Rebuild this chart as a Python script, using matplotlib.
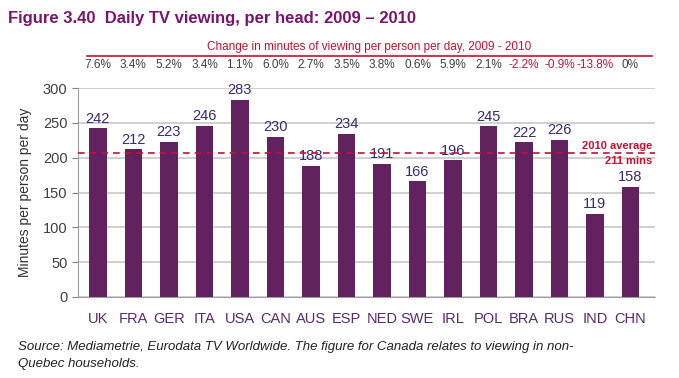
import matplotlib

matplotlib.use("Agg")
import matplotlib.pyplot as plt

plt.rcParams["font.family"] = ["Liberation Sans", "DejaVu Sans"]

countries = ["UK", "FRA", "GER", "ITA", "USA", "CAN", "AUS", "ESP",
             "NED", "SWE", "IRL", "POL", "BRA", "RUS", "IND", "CHN"]
minutes = [242, 212, 223, 246, 283, 230, 188, 234,
           191, 166, 196, 245, 222, 226, 119, 158]
change = ["7.6%", "3.4%", "5.2%", "3.4%", "1.1%", "6.0%", "2.7%", "3.5%",
          "3.8%", "0.6%", "5.9%", "2.1%", "-2.2%", "-0.9%", "-13.8%", "0%"]
average = 211
yticks = [0, 50, 100, 150, 200, 250, 300]

bar_color = "#62225f"
title_color = "#7a1470"
red = "#c8102e"
label_color = "#3b2a6e"

fig = plt.figure(figsize=(6.79, 3.78), dpi=100)
ax = fig.add_axes([78 / 679, 81 / 378, 577 / 679, 209 / 378])

x = list(range(len(countries)))
ax.bar(x, minutes, width=0.5, color=bar_color, zorder=3)
for xi, v in zip(x, minutes):
    ax.text(xi, v + 4, str(v), ha="center", va="bottom", fontsize=10.5,
            color=label_color, zorder=4)

ax.set_ylim(0, 300)
ax.set_xlim(-0.56, 15.69)
ax.set_yticks(yticks)
ax.set_xticks(x)
ax.set_xticklabels(countries)
ax.tick_params(axis="x", length=0, pad=11, labelsize=10.5, labelcolor="#5a2a6a")
ax.tick_params(axis="y", length=4, labelsize=10.5, labelcolor="#404040", color="#808080")
ax.grid(axis="y", color="#c8c8c8", linewidth=1.2, zorder=0)
for s in ["top", "right"]:
    ax.spines[s].set_visible(False)
ax.spines["left"].set_color("#a0a0a0")
ax.spines["bottom"].set_color("#a0a0a0")
ax.set_ylabel("Minutes per person per day", fontsize=10, color="#333333", labelpad=8)

# 2010 average reference line
ax.axhline(average - 4, color=red, linestyle=(0, (4, 3)), linewidth=1.2, zorder=5)
ax.text(15.6, average - 2, "2010 average", ha="right", va="bottom", fontsize=8,
        fontweight="bold", color=red, zorder=6)
ax.text(15.6, average - 8, f"{average} mins", ha="right", va="top", fontsize=8,
        fontweight="bold", color=red, zorder=6)

# change row above the plot
for xi, c in zip(x, change):
    col = red if c.startswith("-") else "#404040"
    ax.text(xi, 1.0 + 23 / 209, c, transform=ax.get_xaxis_transform(),
            ha="center", va="center", fontsize=8.5, color=col)
fig.add_artist(plt.Line2D([87 / 679, 652 / 679], [1 - 56 / 378] * 2,
                          color=red, linewidth=1.2))
fig.text(0.543, 1 - 47 / 378, "Change in minutes of viewing per person per day, 2009 - 2010",
         ha="center", va="center", fontsize=8.5, color=red)

fig.text(8 / 679, 1 - 18 / 378, "Figure 3.40  Daily TV viewing, per head: 2009 \u2013 2010",
         ha="left", va="center", fontsize=12, fontweight="bold", color=title_color)

fig.text(18 / 679, 1 - 347 / 378,
         "Source: Mediametrie, Eurodata TV Worldwide. The figure for Canada relates to viewing in non-",
         ha="left", va="center", fontsize=9.5, style="italic", color="#222222")
fig.text(18 / 679, 1 - 364 / 378, "Quebec households.",
         ha="left", va="center", fontsize=9.5, style="italic", color="#222222")

fig.savefig("out.png", dpi=100)
